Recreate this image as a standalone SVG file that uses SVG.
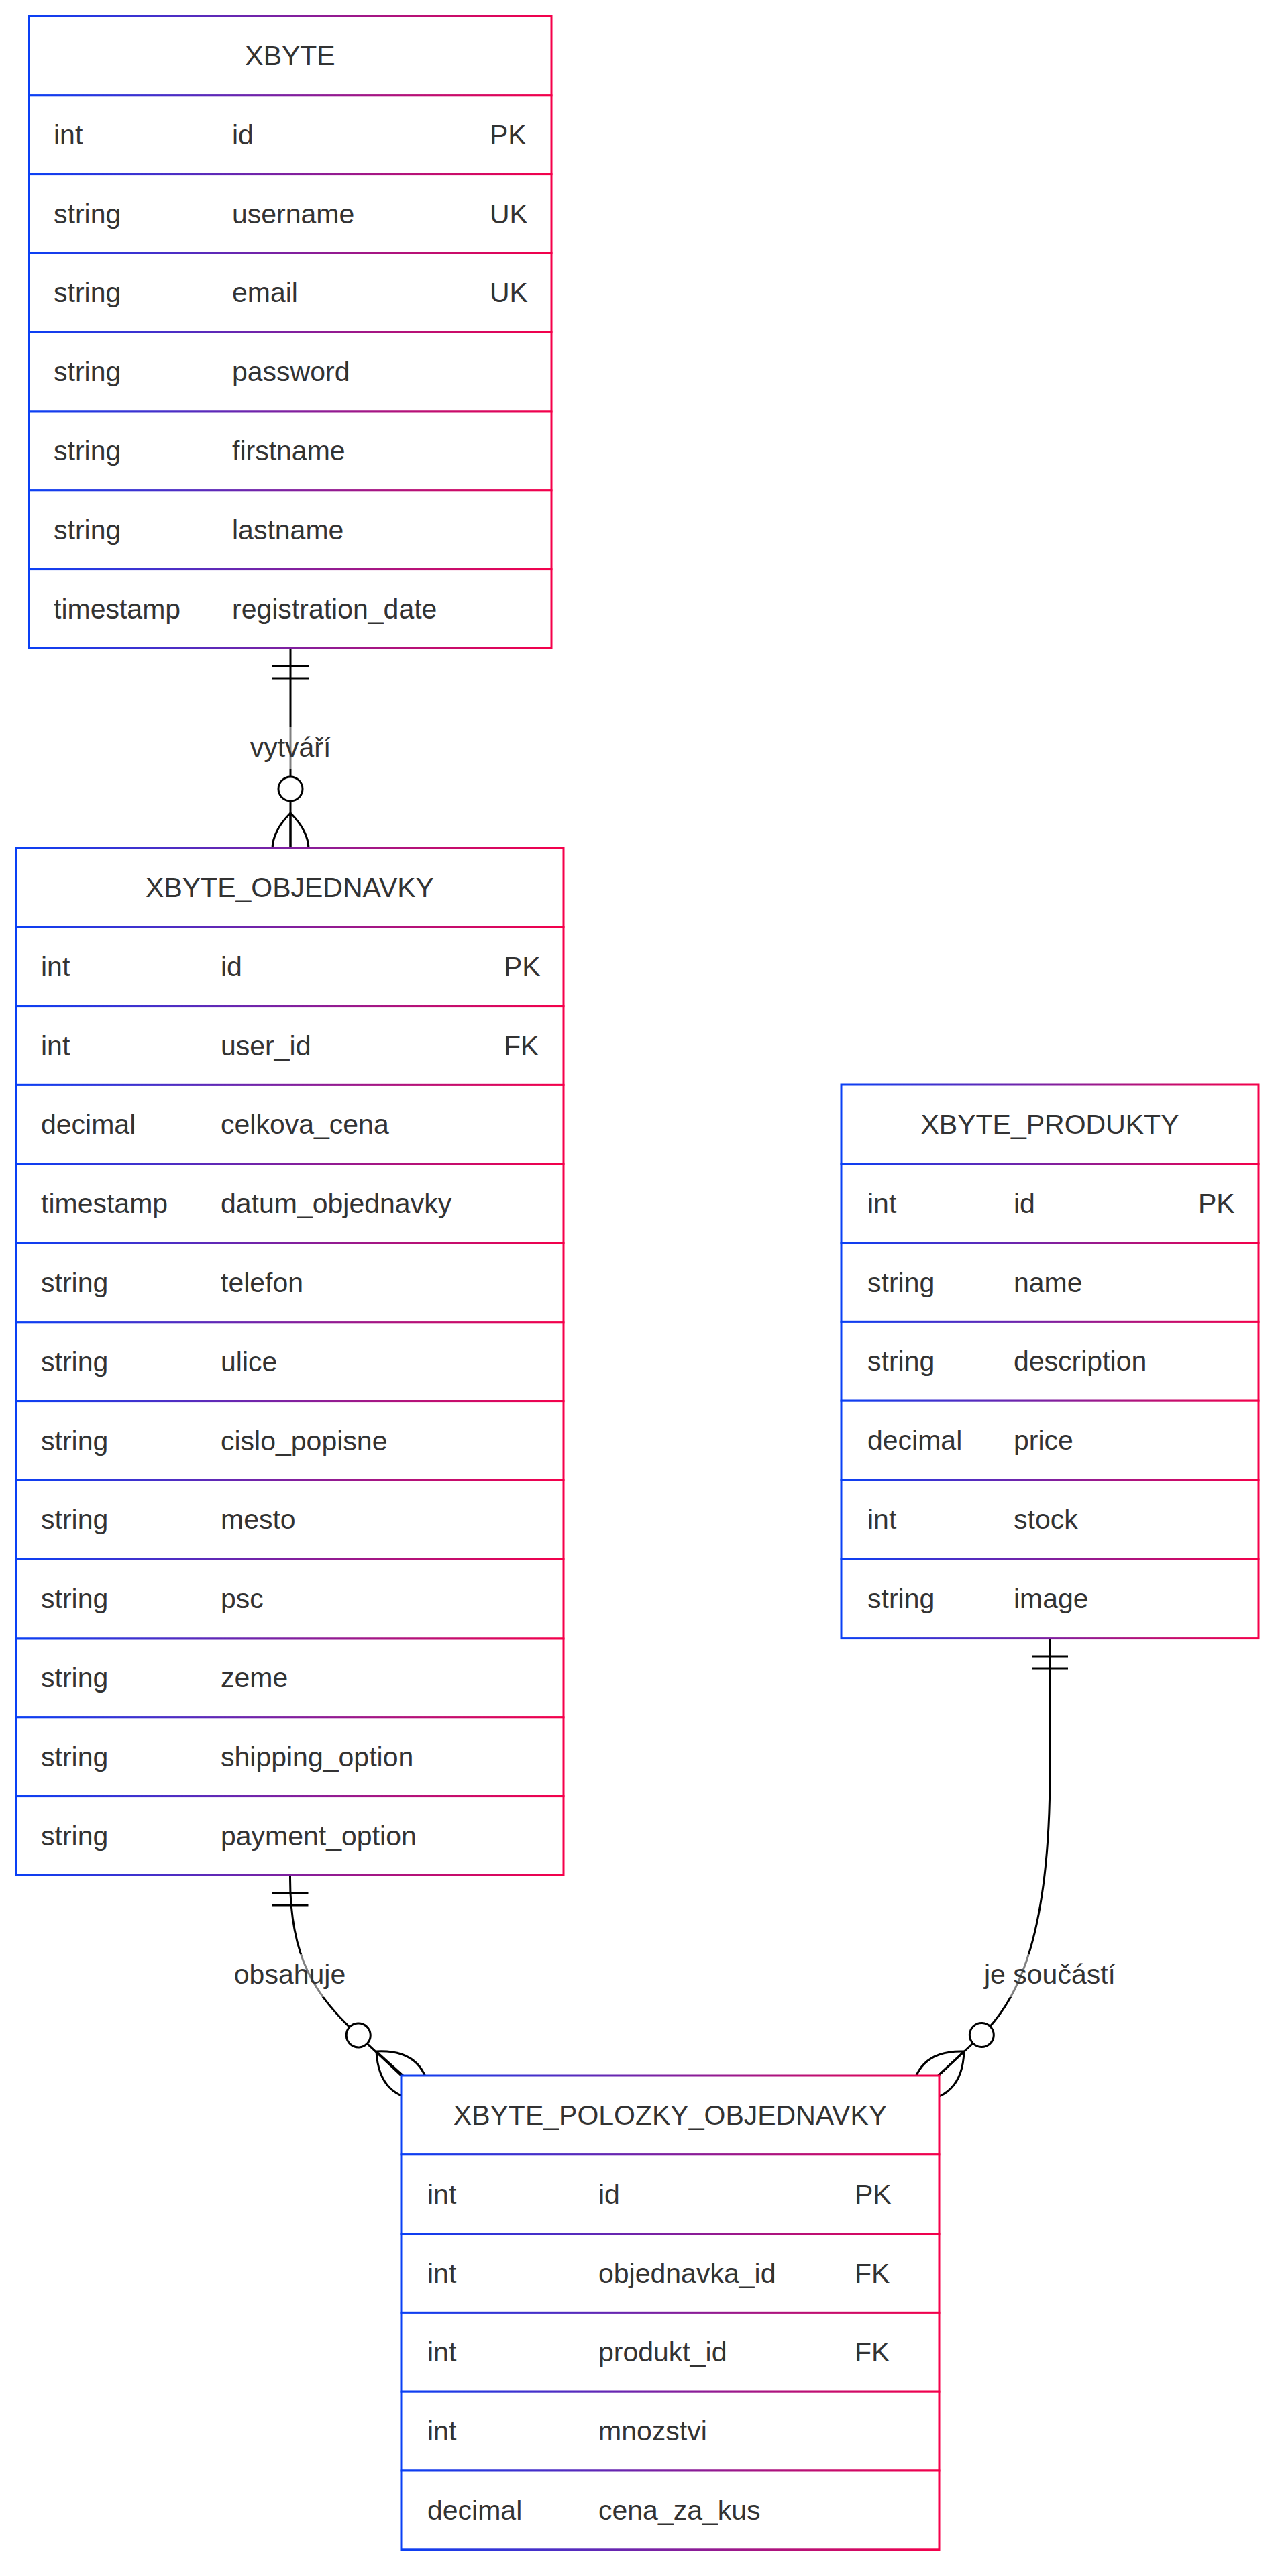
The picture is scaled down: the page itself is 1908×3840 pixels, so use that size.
<svg xmlns="http://www.w3.org/2000/svg" xmlns:xlink="http://www.w3.org/1999/xlink" width="1908" height="3840" viewBox="0 0 1908 3840">
<style>
.row{fill:#ffffff;stroke:url(#grad);stroke-width:3}
.t{font-family:"Liberation Sans",Arial,Helvetica,sans-serif;font-size:41px;fill:#333333}
.h{text-anchor:middle}
.edge{fill:none;stroke:#000000;stroke-width:3}
.mk{fill:none;stroke:#000000;stroke-width:3}
.mkc{fill:#ffffff;stroke:#000000;stroke-width:3}
.lblbg{fill:#ffffff;fill-opacity:0.5;stroke:none}
</style>
<defs>
<linearGradient id="grad" x1="0" y1="0" x2="1" y2="0">
<stop offset="0" stop-color="#0a40f5"/>
<stop offset="1" stop-color="#f5004a"/>
</linearGradient>
<g id="onlyOne">
<path class="mk" d="M27,-27 L27,27 M45,-27 L45,27"/>
</g>
<g id="zeroMany">
<path class="mk" d="M0,0 Q54,-54 108,0 Q54,54 0,0 M0,0 L108,0"/>
<circle class="mkc" cx="-36" cy="0" r="18"/>
</g>
</defs>
<rect x="0" y="0" width="1908" height="3840" fill="#ffffff"/>

<g id="connectors">
<path class="edge" d="M433,966 L433,1264"/>
<use href="#onlyOne" transform="translate(433,966) rotate(90)"/>
<use href="#zeroMany" transform="translate(433,1212) rotate(90)"/>
<rect class="lblbg" x="373" y="1083" width="120" height="64"/>
<text class="t h" x="433" y="1128">vytváří</text>

<path class="edge" d="M432.5,2795 L432.5,2800 C432.5,2920 470,2975 534,3034 L598,3094"/>
<use href="#onlyOne" transform="translate(432.5,2795) rotate(90)"/>
<use href="#zeroMany" transform="translate(561,3058) rotate(42)"/>
<rect class="lblbg" x="347" y="2913" width="170" height="64"/>
<text class="t h" x="432" y="2957">obsahuje</text>

<path class="edge" d="M1565,2442 L1565,2640 C1565,2880 1520,2980 1463,3034 L1399,3094"/>
<use href="#onlyOne" transform="translate(1565,2442) rotate(90)"/>
<use href="#zeroMany" transform="translate(1437,3058) rotate(137)"/>
<rect class="lblbg" x="1466" y="2913" width="198" height="64"/>
<text class="t h" x="1565" y="2957">je součástí</text>
</g>

<g id="XBYTE" transform="translate(43,24)">
<rect class="row" x="0" y="0" width="779" height="117.8"/>
<text class="t h" x="389.5" y="73">XBYTE</text>
<rect class="row" x="0" y="117.8" width="779" height="117.8"/>
<text class="t" x="37" y="190.8">int</text><text class="t" x="303" y="190.8">id</text><text class="t" x="687" y="190.8">PK</text>
<rect class="row" x="0" y="235.6" width="779" height="117.8"/>
<text class="t" x="37" y="308.6">string</text><text class="t" x="303" y="308.6">username</text><text class="t" x="687" y="308.6">UK</text>
<rect class="row" x="0" y="353.4" width="779" height="117.8"/>
<text class="t" x="37" y="426.4">string</text><text class="t" x="303" y="426.4">email</text><text class="t" x="687" y="426.4">UK</text>
<rect class="row" x="0" y="471.2" width="779" height="117.8"/>
<text class="t" x="37" y="544.2">string</text><text class="t" x="303" y="544.2">password</text>
<rect class="row" x="0" y="589" width="779" height="117.8"/>
<text class="t" x="37" y="662">string</text><text class="t" x="303" y="662">firstname</text>
<rect class="row" x="0" y="706.8" width="779" height="117.8"/>
<text class="t" x="37" y="779.8">string</text><text class="t" x="303" y="779.8">lastname</text>
<rect class="row" x="0" y="824.6" width="779" height="117.8"/>
<text class="t" x="37" y="897.6">timestamp</text><text class="t" x="303" y="897.6">registration_date</text>
</g>

<g id="XBYTE_OBJEDNAVKY" transform="translate(24,1264)">
<rect class="row" x="0" y="0" width="816" height="117.8"/>
<text class="t h" x="408" y="73">XBYTE_OBJEDNAVKY</text>
<rect class="row" x="0" y="117.8" width="816" height="117.8"/>
<text class="t" x="37" y="190.8">int</text><text class="t" x="305" y="190.8">id</text><text class="t" x="727" y="190.8">PK</text>
<rect class="row" x="0" y="235.6" width="816" height="117.8"/>
<text class="t" x="37" y="308.6">int</text><text class="t" x="305" y="308.6">user_id</text><text class="t" x="727" y="308.6">FK</text>
<rect class="row" x="0" y="353.4" width="816" height="117.8"/>
<text class="t" x="37" y="426.4">decimal</text><text class="t" x="305" y="426.4">celkova_cena</text>
<rect class="row" x="0" y="471.2" width="816" height="117.8"/>
<text class="t" x="37" y="544.2">timestamp</text><text class="t" x="305" y="544.2">datum_objednavky</text>
<rect class="row" x="0" y="589" width="816" height="117.8"/>
<text class="t" x="37" y="662">string</text><text class="t" x="305" y="662">telefon</text>
<rect class="row" x="0" y="706.8" width="816" height="117.8"/>
<text class="t" x="37" y="779.8">string</text><text class="t" x="305" y="779.8">ulice</text>
<rect class="row" x="0" y="824.6" width="816" height="117.8"/>
<text class="t" x="37" y="897.6">string</text><text class="t" x="305" y="897.6">cislo_popisne</text>
<rect class="row" x="0" y="942.4" width="816" height="117.8"/>
<text class="t" x="37" y="1015.4">string</text><text class="t" x="305" y="1015.4">mesto</text>
<rect class="row" x="0" y="1060.2" width="816" height="117.8"/>
<text class="t" x="37" y="1133.2">string</text><text class="t" x="305" y="1133.2">psc</text>
<rect class="row" x="0" y="1178" width="816" height="117.8"/>
<text class="t" x="37" y="1251">string</text><text class="t" x="305" y="1251">zeme</text>
<rect class="row" x="0" y="1295.8" width="816" height="117.8"/>
<text class="t" x="37" y="1368.8">string</text><text class="t" x="305" y="1368.8">shipping_option</text>
<rect class="row" x="0" y="1413.6" width="816" height="117.8"/>
<text class="t" x="37" y="1486.6">string</text><text class="t" x="305" y="1486.6">payment_option</text>
</g>

<g id="XBYTE_PRODUKTY" transform="translate(1254,1617)">
<rect class="row" x="0" y="0" width="622" height="117.8"/>
<text class="t h" x="311" y="73">XBYTE_PRODUKTY</text>
<rect class="row" x="0" y="117.8" width="622" height="117.8"/>
<text class="t" x="39" y="190.8">int</text><text class="t" x="257" y="190.8">id</text><text class="t" x="532" y="190.8">PK</text>
<rect class="row" x="0" y="235.6" width="622" height="117.8"/>
<text class="t" x="39" y="308.6">string</text><text class="t" x="257" y="308.6">name</text>
<rect class="row" x="0" y="353.4" width="622" height="117.8"/>
<text class="t" x="39" y="426.4">string</text><text class="t" x="257" y="426.4">description</text>
<rect class="row" x="0" y="471.2" width="622" height="117.8"/>
<text class="t" x="39" y="544.2">decimal</text><text class="t" x="257" y="544.2">price</text>
<rect class="row" x="0" y="589" width="622" height="117.8"/>
<text class="t" x="39" y="662">int</text><text class="t" x="257" y="662">stock</text>
<rect class="row" x="0" y="706.8" width="622" height="117.8"/>
<text class="t" x="39" y="779.8">string</text><text class="t" x="257" y="779.8">image</text>
</g>

<g id="XBYTE_POLOZKY_OBJEDNAVKY" transform="translate(598,3094)">
<rect class="row" x="0" y="0" width="802" height="117.8"/>
<text class="t h" x="401" y="73">XBYTE_POLOZKY_OBJEDNAVKY</text>
<rect class="row" x="0" y="117.8" width="802" height="117.8"/>
<text class="t" x="39" y="190.8">int</text><text class="t" x="294" y="190.8">id</text><text class="t" x="676" y="190.8">PK</text>
<rect class="row" x="0" y="235.6" width="802" height="117.8"/>
<text class="t" x="39" y="308.6">int</text><text class="t" x="294" y="308.6">objednavka_id</text><text class="t" x="676" y="308.6">FK</text>
<rect class="row" x="0" y="353.4" width="802" height="117.8"/>
<text class="t" x="39" y="426.4">int</text><text class="t" x="294" y="426.4">produkt_id</text><text class="t" x="676" y="426.4">FK</text>
<rect class="row" x="0" y="471.2" width="802" height="117.8"/>
<text class="t" x="39" y="544.2">int</text><text class="t" x="294" y="544.2">mnozstvi</text>
<rect class="row" x="0" y="589" width="802" height="117.8"/>
<text class="t" x="39" y="662">decimal</text><text class="t" x="294" y="662">cena_za_kus</text>
</g>
</svg>
